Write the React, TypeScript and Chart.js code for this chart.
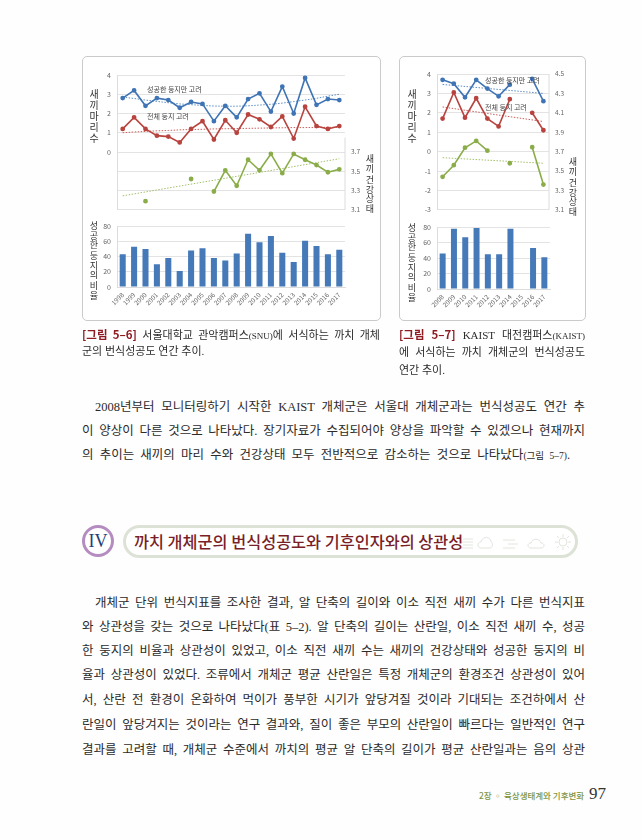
import React, { useEffect, useRef } from "react";
import { Chart, registerables } from "chart.js";

Chart.register(...registerables);

const yearsA = ["1998","1999","2000","2001","2002","2003","2004","2005","2006","2007","2008","2009","2010","2011","2012","2013","2014","2015","2016","2017"];
const fledgedAllNestsA = [1.2,1.8,1.2,0.85,0.8,0.5,1.2,1.6,0.65,1.65,1.0,1.95,1.7,1.3,1.85,0.7,2.35,1.35,1.2,1.35];
const fledgedSuccessA = [2.8,3.2,2.4,2.8,2.7,2.3,2.6,2.5,1.6,2.4,1.8,2.75,3.05,2.1,3.4,2.0,3.85,2.45,2.75,2.7];
const conditionA = [null,null,3.19,null,null,null,3.42,null,3.29,3.51,3.35,3.62,3.51,3.68,3.48,3.68,3.62,3.565,3.49,3.52];
const trendSuccessA = [2.85,2.78,2.7,2.63,2.56,2.5,2.46,2.42,2.39,2.38,2.38,2.4,2.44,2.48,2.54,2.62,2.7,2.79,2.9,3.0];
const trendAllA = [1.0,1.04,1.07,1.1,1.12,1.15,1.17,1.18,1.2,1.21,1.22,1.23,1.24,1.25,1.26,1.27,1.27,1.28,1.28,1.28];
const trendConditionA = [3.245,null,null,null,null,null,null,null,null,null,null,null,null,null,null,null,null,null,null,3.63];
const successRateA = [43,53,50,30,38,21,48,51,38,35,44,70,59,67,45,33,61,54,43,49];

const yearsB = ["2008","2009","2010","2011","2012","2013","2014","2015","2016","2017"];
const fledgedAllNestsB = [1.7,3.05,1.75,2.75,1.7,1.3,2.7,null,2.0,1.1];
const fledgedSuccessB = [3.7,3.5,2.8,3.7,3.25,2.85,3.45,null,3.75,2.6];
const conditionB = [3.44,3.56,3.74,3.81,3.71,null,3.58,null,3.745,3.36];
const trendSuccessB = [3.46,null,null,null,null,null,null,null,null,3.0];
const trendAllB = [2.3,null,null,null,null,null,null,null,null,1.55];
const trendConditionB = [3.637,null,null,null,null,null,null,null,null,3.58];
const successRateB = [46,78,67,79,45,45,78,null,53,41];

const para1 = [
  "2008년부터 모니터링하기 시작한 KAIST 개체군은 서울대 개체군과는 번식성공도 연간 추",
  "이 양상이 다른 것으로 나타났다. 장기자료가 수집되어야 양상을 파악할 수 있겠으나 현재까지",
];
const para2 = [
  "개체군 단위 번식지표를 조사한 결과, 알 단축의 길이와 이소 직전 새끼 수가 다른 번식지표",
  "와 상관성을 갖는 것으로 나타났다(표 5–2). 알 단축의 길이는 산란일, 이소 직전 새끼 수, 성공",
  "한 둥지의 비율과 상관성이 있었고, 이소 직전 새끼 수는 새끼의 건강상태와 성공한 둥지의 비",
  "율과 상관성이 있었다. 조류에서 개체군 평균 산란일은 특정 개체군의 환경조건 상관성이 있어",
  "서, 산란 전 환경이 온화하여 먹이가 풍부한 시기가 앞당겨질 것이라 기대되는 조건하에서 산",
  "란일이 앞당겨지는 것이라는 연구 결과와, 질이 좋은 부모의 산란일이 빠르다는 일반적인 연구",
  "결과를 고려할 때, 개체군 수준에서 까치의 평균 알 단축의 길이가 평균 산란일과는 음의 상관",
];
const para2Y = [603, 627, 651, 675, 700, 725, 750];

const BLUE = "#3f74b5";
const RED = "#b8443f";
const GREEN = "#8aad4a";
const GRID = "#dcdcdc";
const TICK = "#666";
const TEXT = "#2b2b2b";
const FONT = "'Liberation Serif','Noto Sans CJK KR',serif";
const SANS = "'Noto Sans CJK KR','Noto Sans',sans-serif";

function lineDataset(label: string, data: any[], color: string, axis: string) {
  return {
    label, data, yAxisID: axis, borderColor: color, backgroundColor: color,
    borderWidth: 1.6, pointRadius: 1.6, pointHoverRadius: 1.6, tension: 0, spanGaps: false,
  };
}
function trendDataset(label: string, data: any[], color: string, axis: string) {
  return {
    label, data, yAxisID: axis, borderColor: color, borderWidth: 1,
    borderDash: [1.5, 1.5], pointRadius: 0, tension: 0.35, spanGaps: true,
  };
}

function LineChart(props: any) {
  const ref = useRef<HTMLCanvasElement>(null);
  useEffect(() => {
    const p = props;
    const rightLine = {
      id: "rightLine",
      beforeDatasetsDraw(c: any) {
        const s = c.scales.y1;
        const ctx = c.ctx;
        ctx.save();
        ctx.strokeStyle = GRID;
        ctx.lineWidth = 1;
        ctx.beginPath();
        ctx.moveTo(c.chartArea.right, s.getPixelForValue(p.rightLineTop));
        ctx.lineTo(c.chartArea.right, c.chartArea.bottom);
        ctx.stroke();
        ctx.restore();
      },
    };
    const chart = new Chart(ref.current!, {
      type: "line",
      data: {
        labels: p.labels,
        datasets: [
          lineDataset("성공한 둥지만 고려", p.success, BLUE, "y"),
          trendDataset("성공한 둥지 추세", p.trendSuccess, "#5b8cc4", "y"),
          lineDataset("전체 둥지 고려", p.all, RED, "y"),
          trendDataset("전체 둥지 추세", p.trendAll, "#c9605c", "y"),
          lineDataset("새끼 건강상태", p.condition, GREEN, "y1"),
          trendDataset("건강상태 추세", p.trendCondition, "#a3bf6c", "y1"),
        ],
      },
      plugins: [rightLine],
      options: {
        animation: false, responsive: false, maintainAspectRatio: false,
        layout: { padding: { top: p.padTop, bottom: p.padBottom, left: 0, right: 0 } },
        plugins: { legend: { display: false }, tooltip: { enabled: false } },
        scales: {
          x: { display: false, offset: true, grid: { display: false } },
          y: {
            min: -3, max: 4, afterFit: (s: any) => { s.width = p.leftW; },
            ticks: {
              stepSize: 1, padding: 6, color: TICK, font: { size: 7, family: SANS },
              callback: (v: any) => (v >= p.leftFloor ? String(v) : ""),
            },
            grid: { color: GRID, lineWidth: 0.8, drawTicks: false },
            border: { color: GRID },
          },
          y1: {
            position: "right", min: 3.1, max: 4.5, afterFit: (s: any) => { s.width = p.rightW; },
            ticks: {
              stepSize: 0.2, padding: 6, color: TICK, font: { size: 6.5, family: SANS },
              callback: (v: any) => (v <= p.rightCeil + 0.001 ? Number(v).toFixed(1) : ""),
            },
            grid: { display: false, drawTicks: false },
            border: { display: false },
          },
        },
      },
    } as any);
    return () => chart.destroy();
  }, []);
  return <canvas ref={ref} width={props.w} height={props.h} style={{ position: "absolute", left: props.x, top: props.y, width: props.w, height: props.h }} />;
}

function BarChart(props: any) {
  const ref = useRef<HTMLCanvasElement>(null);
  useEffect(() => {
    const p = props;
    const chart = new Chart(ref.current!, {
      type: "bar",
      data: {
        labels: p.labels,
        datasets: [{ label: "성공한 둥지의 비율", data: p.values, backgroundColor: "#4579b8", categoryPercentage: 1, barPercentage: 0.53 }],
      },
      options: {
        animation: false, responsive: false, maintainAspectRatio: false,
        layout: { padding: { top: p.padTop, left: 0, right: p.padRight, bottom: 0 } },
        plugins: { legend: { display: false }, tooltip: { enabled: false } },
        scales: {
          x: {
            afterFit: (s: any) => { s.height = p.axisH; },
            ticks: { minRotation: 45, maxRotation: 45, autoSkip: false, padding: 4, color: TICK, font: { size: 6.5, family: SANS } },
            grid: { display: false, drawTicks: false },
            border: { color: GRID },
          },
          y: {
            min: 0, max: 80, afterFit: (s: any) => { s.width = p.leftW; },
            ticks: { stepSize: 20, padding: 6, color: TICK, font: { size: 7, family: SANS } },
            grid: { color: GRID, lineWidth: 0.8, drawTicks: false },
            border: { color: GRID },
          },
        },
      },
    } as any);
    return () => chart.destroy();
  }, []);
  return <canvas ref={ref} width={props.w} height={props.h} style={{ position: "absolute", left: props.x, top: props.y, width: props.w, height: props.h }} />;
}

function Abs({ x, y, w, size = 12.5, color = TEXT, weight = 400, family = FONT, justify = false, children }: any) {
  const lh = size * 1.5;
  return (
    <div style={{
      position: "absolute", left: x, top: y - lh / 2, width: w, height: lh, lineHeight: lh + "px",
      fontSize: size, color, fontWeight: weight, fontFamily: family,
      textAlign: justify ? "justify" : "left", textAlignLast: justify ? "justify" : "left",
      whiteSpace: justify ? "normal" : "nowrap",
    } as any}>{children}</div>
  );
}

function VText({ x, y, text, size, gap, color = "#333" }: any) {
  return (
    <>
      {Array.from(text as string).map((c: string, i: number) => (
        <div key={i} style={{ position: "absolute", left: x - 10, width: 20, top: y + i * gap, height: size + 2, lineHeight: size + 2 + "px", textAlign: "center", fontSize: size, color, fontFamily: SANS }}>{c}</div>
      ))}
    </>
  );
}

const boxStyle = (l: number, t: number, w: number, h: number): any => ({
  position: "absolute", left: l, top: t, width: w, height: h, boxSizing: "border-box",
  border: "1.5px solid #c9cbc9", borderRadius: 5, background: "#fff",
});

const Small = ({ children }: any) => <span style={{ fontSize: 9 }}>{children}</span>;
const Tag = ({ children }: any) => <b style={{ color: "#8e1b22", fontFamily: SANS, fontSize: 11.5 }}>{children}</b>;

function WeatherIcons() {
  const c = "#e3e6de";
  return (
    <svg style={{ position: "absolute", left: 455, top: 530, width: 120, height: 24 }} viewBox="0 0 120 24" fill="none" stroke={c} strokeWidth={1}>
      <path d="M8 9h10M5 12h13M8 15h10M5 18h13" />
      <path d="M26 18c-4 0-4-6 0-6 1-6 10-6 10 0 2 0 2 6-1 6z" />
      <path d="M48 10h12M53 14h10M48 18h12" />
      <path d="M76 18c-4 0-4-5 0-5 1-5 9-5 10 0 4 0 4 5 0 5z" />
      <circle cx="108" cy="12" r="4" />
      <path d="M108 4v3M108 17v3M100 12h3M113 12h3M102 6l2 2M112 16l2 2M114 6l-2 2M104 16l-2 2" />
    </svg>
  );
}

export default function App() {
  return (
    <div style={{ position: "absolute", left: 0, top: 0, width: 642, height: 840, background: "#fefefe", overflow: "hidden" }}>
      <div style={boxStyle(82, 56, 299, 265)} />
      <div style={boxStyle(399, 56, 187, 265)} />

      <LineChart x={84} y={62} w={295} h={158} padTop={13} padBottom={7} leftW={33} rightW={34} leftFloor={0} rightCeil={3.7} rightLineTop={3.85}
        labels={yearsA} success={fledgedSuccessA} all={fledgedAllNestsA} condition={conditionA}
        trendSuccess={trendSuccessA} trendAll={trendAllA} trendCondition={trendConditionA} />
      <BarChart x={84} y={216} w={295} h={100} padTop={7} padRight={34} leftW={33} axisH={29}
        labels={yearsA} values={successRateA} />

      <LineChart x={401} y={62} w={183} h={158} padTop={12} padBottom={7} leftW={36} rightW={35} leftFloor={-3} rightCeil={4.5} rightLineTop={4.5}
        labels={yearsB} success={fledgedSuccessB} all={fledgedAllNestsB} condition={conditionB}
        trendSuccess={trendSuccessB} trendAll={trendAllB} trendCondition={trendConditionB} />
      <BarChart x={401} y={217} w={183} h={100} padTop={7} padRight={34} leftW={36} axisH={28}
        labels={yearsB} values={successRateB} />

      <Abs x={147} y={89} size={7} color="#444" family={SANS}>성공한 둥지만 고려</Abs>
      <Abs x={147} y={116} size={7} color="#444" family={SANS}>전체 둥지 고려</Abs>
      <Abs x={485} y={80} size={7} color="#444" family={SANS}>성공한 둥지만 고려</Abs>
      <Abs x={485} y={107} size={7} color="#444" family={SANS}>전체 둥지 고려</Abs>

      <VText x={94} y={88} text="새끼마리수" size={10} gap={11} />
      <VText x={370} y={153} text="새끼" size={9} gap={9.5} />
      <VText x={370} y={174} text="건강상태" size={9} gap={9.5} />
      <VText x={94} y={220} text="성공한" size={9} gap={9.5} />
      <VText x={94} y={250} text="둥지의" size={9} gap={9.5} />
      <VText x={94} y={280} text="비율" size={9} gap={9.5} />
      <VText x={412} y={88} text="새끼마리수" size={10} gap={11} />
      <VText x={573} y={156} text="새끼" size={9} gap={9.5} />
      <VText x={573} y={177} text="건강상태" size={9} gap={9.5} />
      <VText x={412} y={222} text="성공한" size={9} gap={9.5} />
      <VText x={412} y={252} text="둥지의" size={9} gap={9.5} />
      <VText x={412} y={282} text="비율" size={9} gap={9.5} />

      <Abs x={82} y={334} w={298} size={11} justify><Tag>[그림 5–6]</Tag> 서울대학교 관악캠퍼스<Small>(SNU)</Small>에 서식하는 까치 개체</Abs>
      <Abs x={82} y={351} size={11}>군의 번식성공도 연간 추이.</Abs>
      <Abs x={399} y={334} w={186} size={11} justify><Tag>[그림 5–7]</Tag> KAIST 대전캠퍼스<Small>(KAIST)</Small></Abs>
      <Abs x={399} y={352} w={186} size={11} justify>에 서식하는 까치 개체군의 번식성공도</Abs>
      <Abs x={399} y={370} size={11}>연간 추이.</Abs>

      <Abs x={95} y={407} w={490} justify>{para1[0]}</Abs>
      <Abs x={82} y={431} w={503} justify>{para1[1]}</Abs>
      <Abs x={82} y={455} w={488} justify>의 추이는 새끼의 마리 수와 건강상태 모두 전반적으로 감소하는 것으로 나타났다<span style={{ fontSize: 9.5 }}>(그림 5–7)</span>.</Abs>

      <div style={{ position: "absolute", left: 82, top: 525, width: 32, height: 32, boxSizing: "border-box", borderRadius: "50%", border: "3px solid #b58cc0", background: "#fff", textAlign: "center", lineHeight: "26px", fontFamily: "'Liberation Serif',serif", fontSize: 18, color: "#1d3f7a" }}>IV</div>
      <div style={{ position: "absolute", left: 123, top: 525, width: 455, height: 33, boxSizing: "border-box", borderRadius: 17, border: "3px solid #dde2d6", background: "#fff" }} />
      <WeatherIcons />
      <Abs x={134} y={541} size={16.3} color="#7a1f27" weight={500} family={SANS}>까치 개체군의 번식성공도와 기후인자와의 상관성</Abs>

      {para2.map((t, i) => (
        <Abs key={i} x={i === 0 ? 95 : 82} y={para2Y[i]} w={i === 0 ? 490 : 503} justify>{t}</Abs>
      ))}

      <Abs x={479} y={795} size={8.5} color="#7d9440" weight={500} family={SANS}>2장 ◦ 육상생태계와 기후변화</Abs>
      <Abs x={589} y={794} size={17} color="#333" family="'Liberation Serif',serif">97</Abs>
    </div>
  );
}
